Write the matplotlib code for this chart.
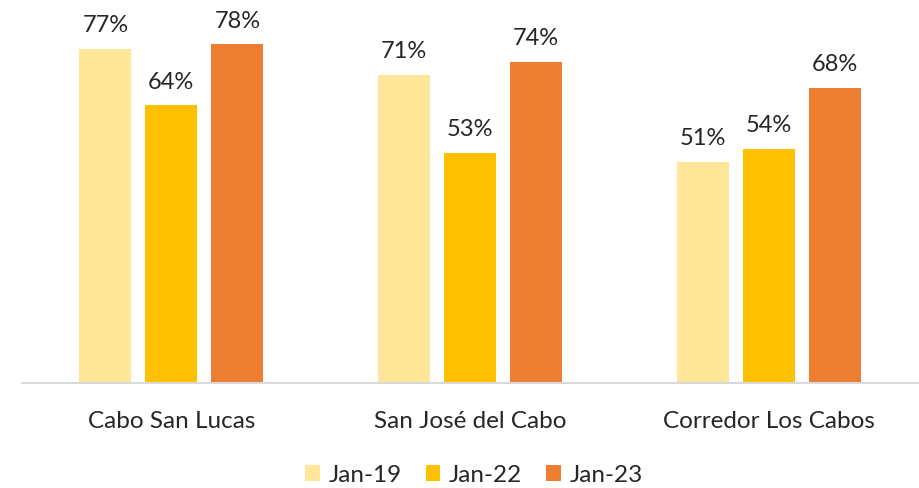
import numpy as np
import matplotlib.pyplot as plt

plt.rcParams['font.family'] = ['Lato', 'DejaVu Sans']

# Data
categories = ['Cabo San Lucas', 'San José del Cabo', 'Corredor Los Cabos']
series = ['Jan-19', 'Jan-22', 'Jan-23']
jan19 = [77, 71, 51]
jan22 = [64, 53, 54]
jan23 = [78, 74, 68]
colors = ['#FFE699', '#FFC000', '#ED7D31']

fig = plt.figure(figsize=(9.19, 4.88), dpi=100)
ax = fig.add_axes([22 / 919, 105 / 488, 896 / 919, 383 / 488])

x = np.arange(len(categories))
step = 0.221
width = 0.174
txt = '#262626'

for i, (vals, name, col) in enumerate(zip([jan19, jan22, jan23], series, colors)):
    bars = ax.bar(x + (i - 1) * step, vals, width, color=col, label=name)
    for b, v in zip(bars, vals):
        ax.annotate(f'{v}%', (b.get_x() + b.get_width() / 2, v),
                    xytext=(0, 9), textcoords='offset points',
                    ha='center', va='bottom', fontsize=17, color=txt)

ax.set_xlim(-0.5, 2.5)
ax.set_ylim(0, 88.2)
ax.set_yticks([])
ax.set_xticks(x)
ax.set_xticklabels(categories, fontsize=17.5, color=txt)
ax.tick_params(axis='x', length=0, pad=20)
for s in ['top', 'right', 'left']:
    ax.spines[s].set_visible(False)
ax.spines['bottom'].set_color('#D9D9D9')
ax.spines['bottom'].set_linewidth(1.5)

ax.legend(loc='center', bbox_to_anchor=(474 / 919, 13 / 488),
          bbox_transform=fig.transFigure, ncol=3, frameon=False,
          fontsize=17.5, handlelength=0.6, handleheight=0.6,
          handletextpad=0.35, columnspacing=1.0, labelcolor=txt)

fig.savefig('out.png', dpi=100)
